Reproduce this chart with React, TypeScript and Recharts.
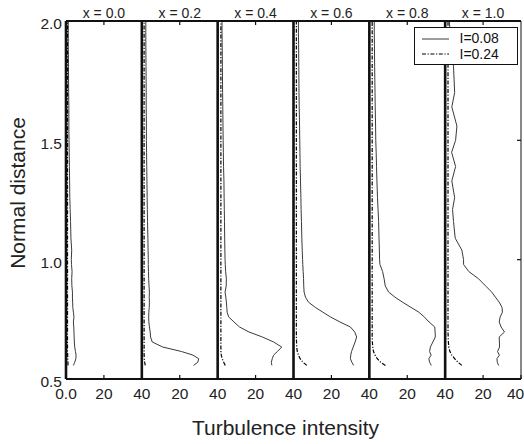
import { Label, Legend, Line, LineChart, ReferenceLine, XAxis, YAxis } from "recharts";

// Alturas (distância normal) comuns a todos os perfis
const alturas = [
  0.557, 0.57, 0.585, 0.6, 0.615, 0.634, 0.655, 0.676, 0.697, 0.718, 0.739, 0.76, 0.78, 0.8, 0.822,
  0.843, 0.864, 0.89, 0.92, 0.95, 0.98, 1.0, 1.04, 1.09, 1.16, 1.21, 1.26, 1.33, 1.39, 1.45, 1.5,
  1.56, 1.64, 1.7, 1.81, 1.9, 1.95, 2.0,
];

const posicoes = ["x = 0.0", "x = 0.2", "x = 0.4", "x = 0.6", "x = 0.8", "x = 1.0"];

// I = 0.08 (linha contínua)
const i08X00 = [3.9, 4.6, 5.2, 5.3, 5.0, 4.6, 4.4, 4.3, 4.2, 4.1, 3.9, 4.2, 3.9, 3.6, 3.5, 3.4, 3.4, 3.1, 3.0, 3.2, 2.9, 2.8, 3.0, 2.6, 2.4, 2.2, 2.0, 1.9, 1.8, 1.7, 1.6, 1.5, 1.5, 1.4, 1.3, 1.2, 1.2, 1.2];
const i08X02 = [27.3, 29.5, 30.0, 27.0, 21.0, 11.0, 5.5, 4.6, 4.4, 4.0, 3.7, 3.6, 3.7, 3.9, 4.0, 3.9, 4.0, 3.8, 3.6, 3.5, 3.4, 3.4, 3.3, 3.2, 3.0, 2.9, 2.8, 2.7, 2.6, 2.5, 2.4, 2.4, 2.3, 2.3, 2.2, 2.1, 2.1, 2.1];
const i08X04 = [28.6, 28.3, 28.8, 29.5, 31.5, 33.8, 29.5, 23.6, 16.5, 11.5, 8.6, 5.8, 5.0, 4.8, 4.6, 4.3, 3.9, 4.5, 4.6, 4.2, 4.0, 3.9, 3.8, 3.7, 3.6, 3.5, 3.4, 3.3, 3.1, 3.0, 2.9, 2.8, 2.7, 2.6, 2.5, 2.4, 2.3, 2.3];
const i08X06 = [31.7, 30.8, 30.0, 30.2, 30.6, 31.5, 32.5, 33.3, 32.3, 30.0, 24.5, 19.5, 15.5, 11.5, 7.9, 6.3, 5.6, 5.4, 5.3, 5.1, 4.9, 4.8, 4.6, 4.4, 4.2, 4.0, 3.9, 3.7, 3.5, 3.4, 3.3, 3.2, 3.0, 2.9, 2.8, 2.7, 2.6, 2.6];
const i08X08 = [32.7, 31.8, 31.4, 32.6, 31.8, 32.2, 33.5, 34.8, 34.7, 34.5, 31.5, 29.0, 26.1, 22.0, 17.5, 13.5, 10.2, 8.4, 7.8, 7.0, 5.6, 5.4, 5.3, 5.1, 4.9, 4.6, 4.3, 4.0, 3.8, 3.6, 3.4, 3.3, 3.1, 3.0, 2.8, 2.7, 2.6, 2.6];
const i08X10 = [28.2, 27.5, 27.3, 28.6, 27.6, 28.7, 28.6, 28.5, 31.3, 29.5, 28.5, 29.0, 30.2, 30.0, 28.5, 26.5, 24.6, 21.3, 17.6, 12.5, 9.7, 9.7, 8.8, 5.3, 4.4, 3.9, 5.0, 3.5, 5.5, 3.4, 5.5, 6.2, 3.5, 5.0, 4.4, 3.2, 2.6, 2.2];

// I = 0.24 (traço-ponto)
const i24X00 = [1.1, 1.0, 0.9, 0.9, 0.8, 0.8, 0.8, 0.8, 0.8, 0.8, 0.8, 0.8, 0.8, 0.8, 0.8, 0.8, 0.8, 0.8, 0.8, 0.8, 0.8, 0.8, 0.8, 0.8, 0.8, 0.8, 0.8, 0.8, 0.8, 0.8, 0.8, 0.8, 0.8, 0.8, 0.8, 0.8, 0.8, 0.8];
const i24X02 = [1.8, 1.5, 1.3, 1.2, 1.2, 1.2, 1.2, 1.2, 1.2, 1.2, 1.2, 1.2, 1.2, 1.2, 1.2, 1.2, 1.2, 1.2, 1.2, 1.2, 1.2, 1.2, 1.2, 1.2, 1.2, 1.2, 1.2, 1.2, 1.2, 1.2, 1.2, 1.2, 1.2, 1.2, 1.2, 1.2, 1.2, 1.2];
const i24X04 = [4.0, 3.2, 2.4, 1.9, 1.7, 1.7, 1.7, 1.7, 1.7, 1.7, 1.7, 1.7, 1.7, 1.7, 1.7, 1.7, 1.7, 1.7, 1.7, 1.7, 1.7, 1.7, 1.7, 1.7, 1.7, 1.7, 1.7, 1.7, 1.7, 1.7, 1.7, 1.7, 1.7, 1.7, 1.7, 1.7, 1.7, 1.7];
const i24X06 = [7.0, 5.0, 3.5, 2.6, 2.0, 1.7, 1.6, 1.5, 1.5, 1.5, 1.5, 1.5, 1.5, 1.5, 1.5, 1.5, 1.5, 1.5, 1.5, 1.5, 1.5, 1.5, 1.5, 1.5, 1.5, 1.5, 1.5, 1.5, 1.5, 1.5, 1.5, 1.5, 1.5, 1.5, 1.5, 1.5, 1.5, 1.5];
const i24X08 = [8.5, 6.0, 4.2, 3.0, 2.2, 1.8, 1.6, 1.5, 1.5, 1.5, 1.5, 1.5, 1.5, 1.5, 1.5, 1.5, 1.5, 1.5, 1.5, 1.5, 1.5, 1.5, 1.5, 1.5, 1.5, 1.5, 1.5, 1.5, 1.5, 1.5, 1.5, 1.5, 1.5, 1.5, 1.5, 1.5, 1.5, 1.5];
const i24X10 = [8.8, 6.8, 5.0, 3.5, 2.5, 1.9, 1.7, 1.6, 1.5, 1.5, 1.5, 1.5, 1.5, 1.5, 1.5, 1.5, 1.5, 1.5, 1.5, 1.5, 1.5, 1.5, 1.5, 1.5, 1.5, 1.5, 1.5, 1.5, 1.5, 1.5, 1.5, 1.5, 1.5, 1.5, 1.5, 1.5, 1.5, 1.5];

const xTicks = [0, 20, 40, 60, 80, 100, 120, 140, 160, 180, 200, 220, 240];
const xTickLabels = ["0.0", "20", "40", "20", "40", "20", "40", "20", "40", "20", "40", "20", "40"];
const titleTicks = [20, 60, 100, 140, 180, 220];
const yTicks = [0.5, 1.0, 1.5, 2.0];

const LARGURA_PAINEL = 40;
const FONTE = "'Liberation Sans', Arial, Helvetica, sans-serif";

const series = [
  { nome: "I=0.08", cor: "#3a3a3a", traco: undefined as string | undefined, espessura: 1 },
  { nome: "I=0.24", cor: "#000", traco: "4 1.6 1.2 1.6", espessura: 1.2 },
];

const paineis = [
  { titulo: posicoes[0], baixa: i08X00, alta: i24X00 },
  { titulo: posicoes[1], baixa: i08X02, alta: i24X02 },
  { titulo: posicoes[2], baixa: i08X04, alta: i24X04 },
  { titulo: posicoes[3], baixa: i08X06, alta: i24X06 },
  { titulo: posicoes[4], baixa: i08X08, alta: i24X08 },
  { titulo: posicoes[5], baixa: i08X10, alta: i24X10 },
];

/**
 * Cada painel ocupa 40 unidades no eixo x compartilhado.
 */
function montarPerfil(valores: number[], painel: number) {
  return alturas.map((y, k) => ({ x: valores[k] + painel * LARGURA_PAINEL, y }));
}

function TickInferior(props: any) {
  const { x, y, payload } = props;
  const idx = xTicks.indexOf(payload.value);
  const ajuste = payload.value === 240 ? -5.5 : 0;
  return (
    <text x={x + ajuste} y={y} dy="0.71em" textAnchor="middle" fontSize={15.5} fill="#222" fontFamily={FONTE}>
      {xTickLabels[idx]}
    </text>
  );
}

function TickTitulo(props: any) {
  const { x, y, payload } = props;
  const idx = titleTicks.indexOf(payload.value);
  return (
    <text x={x} y={y} textAnchor="middle" fontSize={14} fill="#222" fontFamily={FONTE}>
      {paineis[idx]?.titulo}
    </text>
  );
}

function CaixaLegenda(props: any) {
  const itens = (props.payload || []).filter((p: any) => p.type !== "none");
  return (
    <div
      style={{
        position: "relative",
        border: "1.3px solid #111",
        background: "#fff",
        width: 104,
        height: 38,
        boxSizing: "border-box",
        fontFamily: FONTE,
      }}
    >
      {itens.map((item: any, k: number) => {
        const s = series.find((v) => v.nome === item.value);
        const centro = 11 + k * 15.6;
        return (
          <div key={item.value}>
            <svg width={30} height={6} style={{ position: "absolute", left: 6, top: centro - 3 }}>
              <line
                x1={1}
                x2={28}
                y1={3}
                y2={3}
                stroke={s?.cor}
                strokeWidth={s?.espessura}
                strokeDasharray={s?.traco}
              />
            </svg>
            <span
              style={{
                position: "absolute",
                left: 44.5,
                top: centro - 7.5,
                fontSize: 14,
                lineHeight: "15px",
                color: "#111",
                whiteSpace: "nowrap",
              }}
            >
              {item.value}
            </span>
          </div>
        );
      })}
    </div>
  );
}

export default function App() {
  return (
    <div style={{ position: "absolute", left: 0, top: 0, width: 524, height: 444, background: "#fff", fontFamily: FONTE }}>
      <LineChart width={524} height={444} margin={{ top: 0, right: 2, bottom: 35, left: 10 }}>
        <XAxis
          xAxisId="b"
          dataKey="x"
          type="number"
          domain={[0, 240]}
          allowDataOverflow
          ticks={xTicks}
          interval={0}
          height={30}
          axisLine={{ stroke: "#111", strokeWidth: 2 }}
          tickLine={{ stroke: "#111", strokeWidth: 1.2 }}
          tickSize={-4}
          tickMargin={12.8}
          tick={<TickInferior />}
        >
          <Label value="Turbulence intensity" position="bottom" offset={11.4} dx={-8} fontSize={21} fill="#222" />
        </XAxis>
        <XAxis
          xAxisId="t"
          orientation="top"
          dataKey="x"
          type="number"
          domain={[0, 240]}
          allowDataOverflow
          ticks={titleTicks}
          interval={0}
          height={21}
          axisLine={{ stroke: "#111", strokeWidth: 2 }}
          tickLine={{ stroke: "#111", strokeWidth: 1.2 }}
          tickSize={-4}
          tickMargin={7}
          tick={<TickTitulo />}
        />
        <YAxis
          yAxisId="l"
          dataKey="y"
          type="number"
          domain={[0.5, 2]}
          allowDataOverflow
          ticks={yTicks}
          interval={0}
          width={56}
          axisLine={false}
          tickLine={false}
          tickSize={0}
          tickMargin={4}
          tick={{ fontSize: 15.5, fill: "#222", dy: 2.7 }}
          tickFormatter={(v: number) => v.toFixed(1)}
        >
          <Label value="Normal distance" position="center" angle={-90} dx={-20.5} dy={-7} fontSize={21} fill="#222" />
        </YAxis>
        <YAxis
          yAxisId="r"
          orientation="right"
          dataKey="y"
          type="number"
          domain={[0.5, 2]}
          allowDataOverflow
          ticks={[0.5, 1.0, 1.5, 2.0]}
          interval={0}
          width={1}
          axisLine={{ stroke: "#111", strokeWidth: 1 }}
          tickLine={{ stroke: "#111", strokeWidth: 1.2 }}
          tickSize={-4}
          tick={() => <g />}
        />

        {paineis.map((p, i) => (
          <Line
            key={`b${i}`}
            xAxisId="b"
            yAxisId="l"
            data={montarPerfil(p.baixa, i)}
            dataKey="y"
            name={series[0].nome}
            type="linear"
            stroke={series[0].cor}
            strokeWidth={series[0].espessura}
            dot={false}
            activeDot={false}
            legendType={i === 0 ? "line" : "none"}
            isAnimationActive={false}
          />
        ))}
        {paineis.map((p, i) => (
          <Line
            key={`a${i}`}
            xAxisId="b"
            yAxisId="l"
            data={montarPerfil(p.alta, i)}
            dataKey="y"
            name={series[1].nome}
            type="linear"
            stroke={series[1].cor}
            strokeWidth={series[1].espessura}
            strokeDasharray={series[1].traco}
            dot={false}
            activeDot={false}
            legendType={i === 0 ? "line" : "none"}
            isAnimationActive={false}
          />
        ))}

        {paineis.map((_, i) => (
          <ReferenceLine
            key={`d${i}`}
            xAxisId="b"
            yAxisId="l"
            x={i * LARGURA_PAINEL}
            stroke="#111"
            strokeWidth={2.6}
          />
        ))}

        <Legend
          content={<CaixaLegenda />}
          layout="horizontal"
          verticalAlign="middle"
          align="center"
          wrapperStyle={{ left: 414, top: 26.5, width: 104 }}
        />
      </LineChart>
    </div>
  );
}
